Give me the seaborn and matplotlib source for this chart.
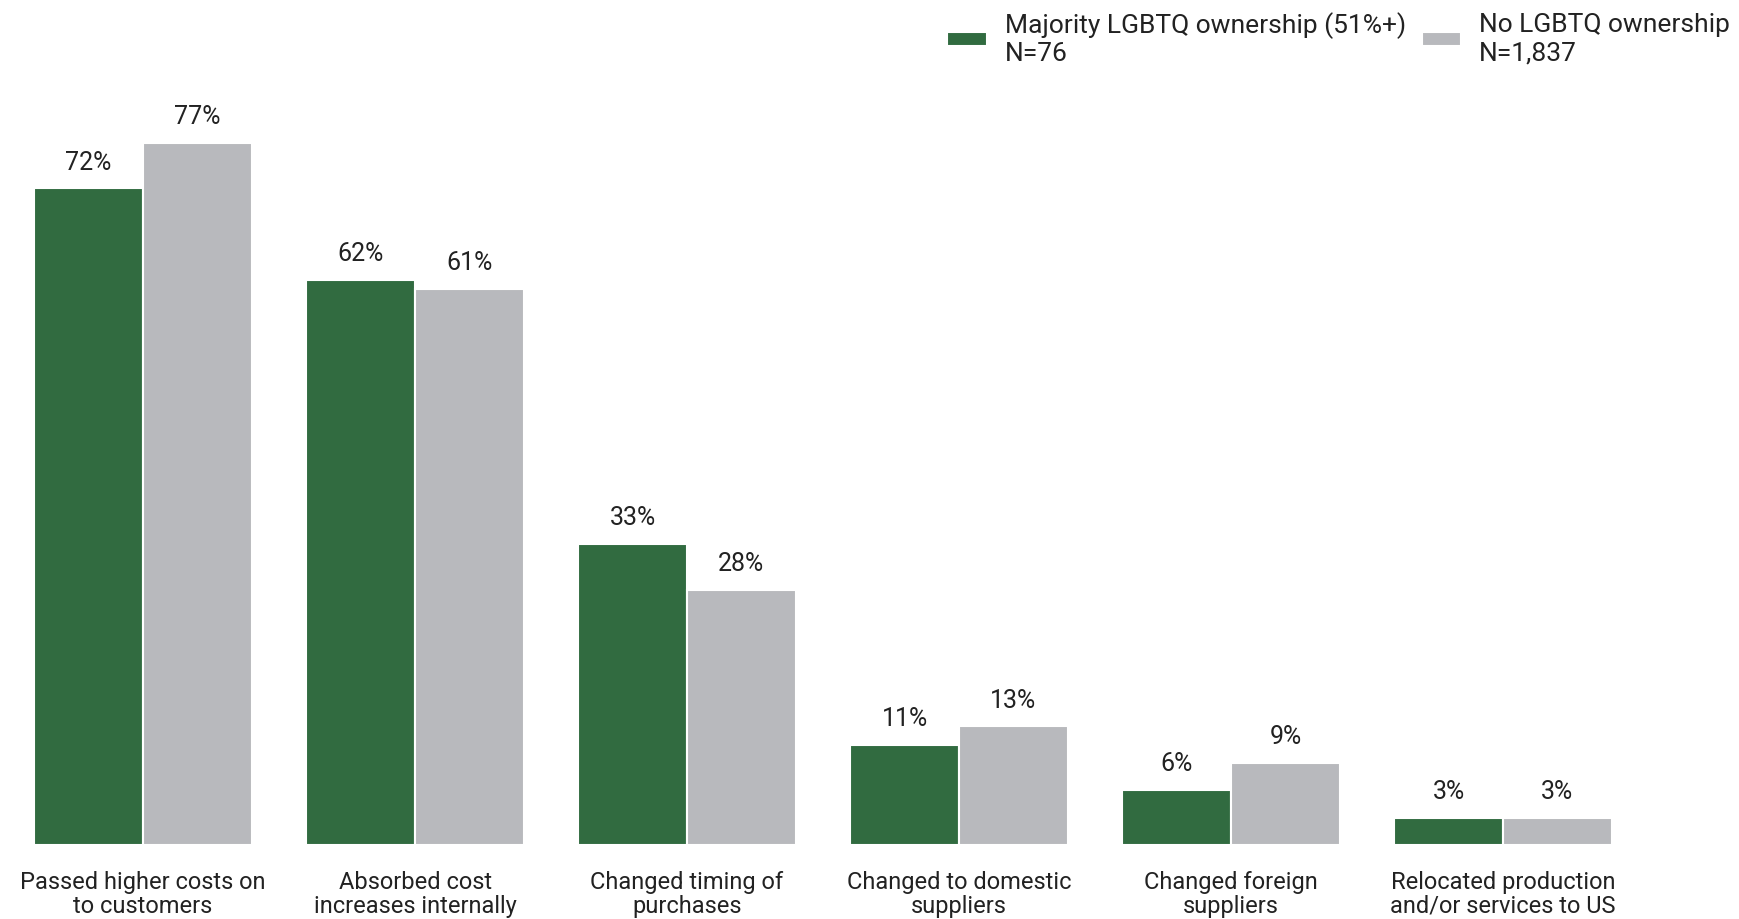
import pandas as pd
import matplotlib.pyplot as plt
import seaborn as sns

# data
categories = [
    "Passed higher costs on\nto customers",
    "Absorbed cost\nincreases internally",
    "Changed timing of\npurchases",
    "Changed to domestic\nsuppliers",
    "Changed foreign\nsuppliers",
    "Relocated production\nand/or services to US",
]
series_names = ["Majority LGBTQ ownership (51%+)\nN=76", "No LGBTQ ownership\nN=1,837"]
majority_vals = [72, 62, 33, 11, 6, 3]
none_vals = [77, 61, 28, 13, 9, 3]
colors = ["#316B40", "#B8B9BD"]

df = pd.DataFrame({
    "category": categories * 2,
    "group": [series_names[0]] * len(categories) + [series_names[1]] * len(categories),
    "value": majority_vals + none_vals,
})

sns.set_style("white")
plt.rcParams["font.family"] = ["Roboto", "DejaVu Sans"]

fig = plt.figure(figsize=(17.39, 9.19), dpi=100)
ax = fig.add_axes([0, 0.0805, 1, 0.8107])

sns.barplot(data=df, x="category", y="value", hue="group", palette=colors,
            width=0.8, edgecolor="white", linewidth=1.5, saturation=1, ax=ax)

for c in ax.containers:
    ax.bar_label(c, fmt="%g%%", padding=10, fontsize=18, color="#222222")

ax.set_xlim(-0.526, -0.526 + 1739 / 272)
ax.set_ylim(0, 81.7)
ax.set_xlabel("")
ax.set_ylabel("")
ax.set_yticks([])
ax.tick_params(axis="x", length=0, pad=18.5, labelsize=17, labelcolor="#222222")
for lbl in ax.get_xticklabels():
    lbl.set_linespacing(1.06)
sns.despine(ax=ax, left=True, bottom=True)

handles, labels = ax.get_legend_handles_labels()
ax.legend(handles, labels, ncol=2, frameon=False, fontsize=19,
          loc="upper left", bbox_to_anchor=(0.531, 1.013), bbox_transform=fig.transFigure,
          handlelength=1.5, handleheight=0.45, handletextpad=0.68, columnspacing=0.6,
          labelcolor="#222222")

fig.savefig("out.png", dpi=100)
